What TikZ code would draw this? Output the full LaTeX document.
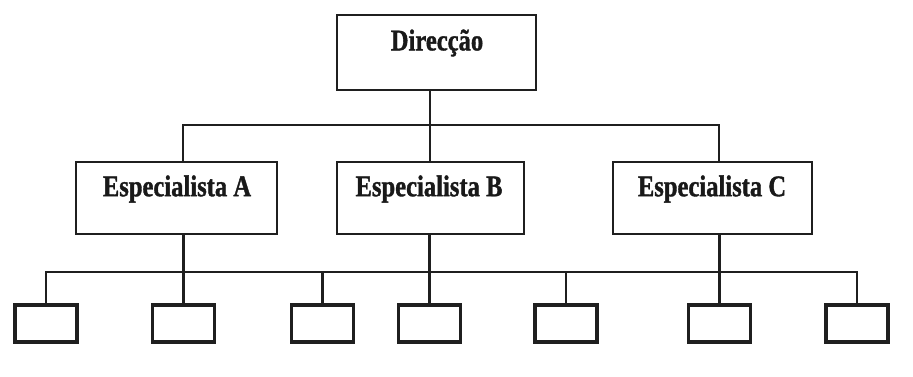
\documentclass[tikz,border=0pt]{standalone}
\usepackage{fontspec}
\newfontfamily\orgfont{Liberation Serif}[FakeStretch=0.82, FakeBold=1.2]
\begin{document}
\begin{tikzpicture}[x=1bp,y=-1bp,
  line join=miter,
  wire/.style={draw=black!88, line width=2.6bp},
  headbox/.style={draw=black!88, line width=2.8bp, fill=white, inner sep=0pt,
    minimum width=#1, minimum height=72bp},
  headbox/.default=200bp,
  leafbox/.style={draw=black!88, line width=3.2bp, fill=white, inner sep=0pt,
    minimum width=62bp, minimum height=37bp},
  boxtext/.style={font=\orgfont\bfseries\fontsize{30bp}{34bp}\selectfont, text=black!90}
]
\useasboundingbox (0,0) rectangle (913,376);

% management and specialist boxes
\node[headbox=199bp, minimum height=75bp] (dir) at (436.5,52.5) {};
\node[boxtext] (dirt) at (437,43) {Direcção};
\node[headbox=201bp] (ea) at (176.5,198) {};
\node[boxtext] (eat) at (177,189) {Especialista A};
\node[headbox=187bp] (eb) at (430.5,198) {};
\node[boxtext] (ebt) at (429,189) {Especialista B};
\node[headbox=199bp] (ec) at (712.5,198) {};
\node[boxtext] (ect) at (712,189) {Especialista C};

% line staff boxes
\node[leafbox] (l1) at (46,323.5) {};
\node[leafbox] (l2) at (183.5,323.5) {};
\node[leafbox] (l3) at (322.5,323.5) {};
\node[leafbox] (l4) at (429.5,323.5) {};
\node[leafbox] (l5) at (566,323.5) {};
\node[leafbox] (l6) at (719.5,323.5) {};
\node[leafbox] (l7) at (857,323.5) {};

% bus junctions
\coordinate (top) at (430,125);
\coordinate (sa) at (183,125);
\coordinate (sc) at (719,125);
\coordinate (low) at (0,272);

% upper level
\draw[wire] (dir.south -| top) -- (top);
\draw[wire] (sa |- ea.north) -- (sa) -- (sc) -- (sc |- ec.north);
\draw[wire] (top) -- (top |- eb.north);

% lower level
\draw[wire] (l1.north) -- (l1.north |- low) -- (l7.north |- low) -- (l7.north);
\draw[wire] (ea.south -| l2.north) -- (l2.north);
\draw[wire] (eb.south -| l4.north) -- (l4.north);
\draw[wire] (ec.south -| l6.north) -- (l6.north);
\draw[wire] (l3.north |- low) -- (l3.north);
\draw[wire] (l5.north |- low) -- (l5.north);
\end{tikzpicture}
\end{document}
